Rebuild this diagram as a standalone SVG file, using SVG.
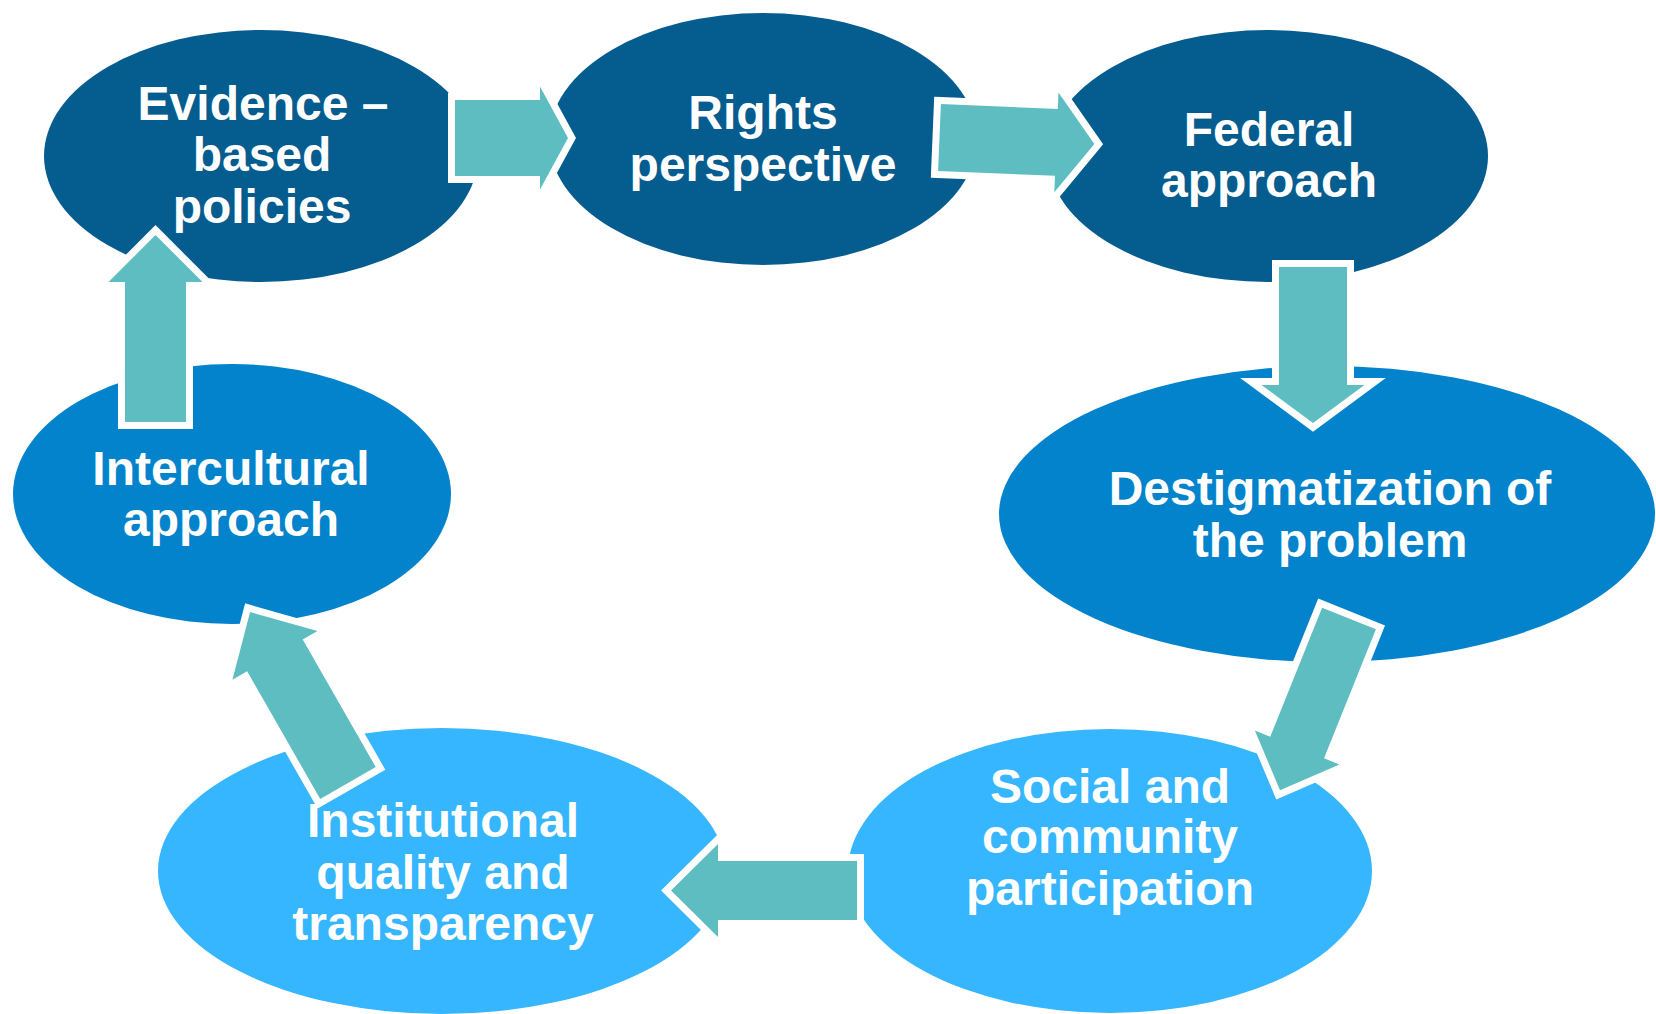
<svg xmlns="http://www.w3.org/2000/svg" width="1656" height="1014" viewBox="0 0 1656 1014">
<style>
.dark{fill:#045C8F}
.mid{fill:#0283CB}
.light{fill:#36B6FE}
.arrow{fill:#5EBDC1;stroke:#FFFFFF;stroke-width:14;stroke-linejoin:miter;stroke-miterlimit:4;paint-order:stroke}
text{font-family:"Liberation Sans",Arial,sans-serif;font-weight:bold;font-size:48px;fill:#FFFFFF;text-anchor:middle}
</style>
<rect width="1656" height="1014" fill="#FFFFFF"/>
<g id="node-evidence">
<ellipse class="dark" cx="261" cy="156" rx="217" ry="126"/>
<text x="263" y="120">Evidence –</text>
<text x="262" y="171">based</text>
<text x="262" y="223">policies</text>
</g>
<g id="node-rights">
<ellipse class="dark" cx="763" cy="139" rx="214" ry="126"/>
<text x="763" y="129">Rights</text>
<text x="763" y="181">perspective</text>
</g>
<g id="node-federal">
<ellipse class="dark" cx="1268" cy="156" rx="220" ry="126"/>
<text x="1269" y="146">Federal</text>
<text x="1269" y="197">approach</text>
</g>
<g id="node-destigmatization">
<ellipse class="mid" cx="1327" cy="514" rx="328" ry="148"/>
<text x="1330" y="505">Destigmatization of</text>
<text x="1330" y="557">the problem</text>
</g>
<g id="node-social">
<ellipse class="light" cx="1110" cy="871" rx="262" ry="142"/>
<text x="1110" y="803">Social and</text>
<text x="1110" y="853">community</text>
<text x="1110" y="905">participation</text>
</g>
<g id="node-institutional">
<ellipse class="light" cx="442" cy="871" rx="284" ry="143"/>
<text x="443" y="837">Institutional</text>
<text x="443" y="889">quality and</text>
<text x="443" y="940">transparency</text>
</g>
<g id="node-intercultural">
<ellipse class="mid" cx="232" cy="494" rx="219" ry="130"/>
<text x="231" y="485">Intercultural</text>
<text x="231" y="536">approach</text>
</g>
<g id="connectors">
<path class="arrow" transform="translate(455,138)" d="M0,-38 L85,-38 L85,-51.5 L113,0 L85,51.5 L85,38 L0,38 Z"/>
<path class="arrow" transform="translate(939.5,137.5) rotate(2.4)" d="M0,-33.5 L117,-33.5 L117,-50 L155,0 L117,50 L117,33.5 L0,33.5 Z"/>
<path class="arrow" transform="translate(1313,267) rotate(90)" d="M0,-34 L118,-34 L118,-51.5 L156,0 L118,51.5 L118,34 L0,34 Z"/>
<path class="arrow" transform="translate(1349,618.5) rotate(111.9)" d="M0,-29 L139,-29 L139,-45.6 L185,0 L139,45.6 L139,29 L0,29 Z"/>
<path class="arrow" transform="translate(857,890.5) rotate(180)" d="M0,-29.5 L139,-29.5 L139,-46.5 L186,0 L139,46.5 L139,29.5 L0,29.5 Z"/>
<path class="arrow" transform="translate(348,783) rotate(-119.8)" d="M0,-32 L147,-32 L147,-49 L197,0 L147,49 L147,32 L0,32 Z"/>
<path class="arrow" transform="translate(155.5,422) rotate(-90)" d="M0,-30.5 L140,-30.5 L140,-47 L187,0 L140,47 L140,30.5 L0,30.5 Z"/>
</g>
</svg>
